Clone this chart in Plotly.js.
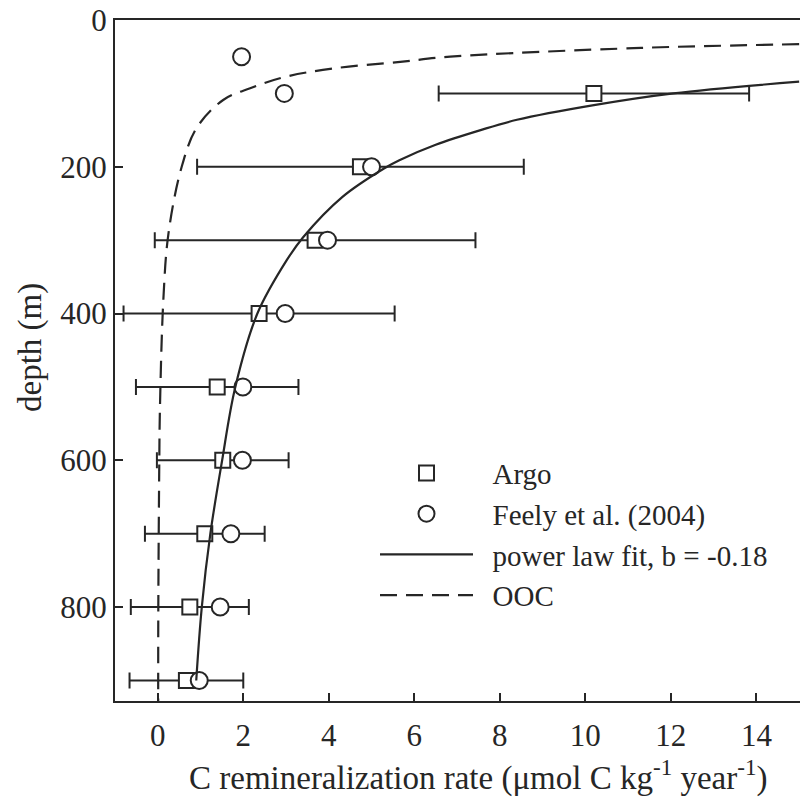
<!DOCTYPE html>
<html>
<head>
<meta charset="utf-8">
<script src="https://cdn.plot.ly/plotly-3.0.1.min.js"></script>
<style>html,body{margin:0;padding:0;background:#fff;}#chart{width:800px;height:798px;}</style>
</head>
<body>
<div id="chart"></div>
<script>
// Argo estimates (squares) with symmetric horizontal error bars
const argoDepth = [100, 200, 300, 400, 500, 600, 700, 800, 900];
const argoRate  = [10.2, 4.74, 3.68, 2.37, 1.39, 1.52, 1.10, 0.75, 0.67];
const argoErr   = [3.63, 3.82, 3.75, 3.17, 1.90, 1.54, 1.40, 1.38, 1.33];

// Feely et al. (2004) (circles)
const feelyDepth = [50, 100, 200, 300, 400, 500, 600, 700, 800, 900];
const feelyRate  = [1.96, 2.96, 5.00, 3.97, 2.98, 1.99, 1.98, 1.71, 1.46, 0.97];

// power law fit curve
const fitDepth = [84, 100, 116, 136, 150, 170, 191, 202, 241, 296, 327, 400, 501, 602, 700, 800, 900];
const fitRate  = [15.0, 12.06, 10.2, 8.40, 7.55, 6.50, 5.65, 5.30, 4.32, 3.40, 3.02, 2.33, 1.81, 1.50, 1.23, 1.03, 0.90];

// OOC curve
const oocDepth = [33, 38, 50, 57, 66, 78, 93, 109, 147, 200, 291, 382, 532, 600, 800, 928];
const oocRate  = [15.0, 11.3, 6.84, 5.67, 4.11, 2.94, 2.16, 1.53, 0.91, 0.56, 0.25, 0.13, 0.05, 0.036, 0.013, 0.01];

// texts
const xTitle = 'C remineralization rate (\u03bcmol C kg<sup>-1</sup> year<sup>-1</sup>)';
const yTitle = 'depth (m)';
const xTicks = [0, 2, 4, 6, 8, 10, 12, 14];
const yTicks = [0, 200, 400, 600, 800];

const ink = '#262626';
const fontFam = 'Liberation Serif, Times New Roman, serif';
const pad = '\u00a0\u00a0';

const traces = [
  {
    x: argoRate, y: argoDepth, type: 'scatter', mode: 'markers', name: pad + 'Argo',
    marker: {symbol: 'square', size: 15, color: '#fff', line: {color: ink, width: 2}},
    error_x: {type: 'data', array: argoErr, visible: true, color: ink, thickness: 2, width: 8}
  },
  {
    x: feelyRate, y: feelyDepth, type: 'scatter', mode: 'markers', name: pad + 'Feely et al. (2004)',
    marker: {symbol: 'circle', size: 17, color: '#fff', line: {color: ink, width: 2}}
  },
  {
    x: fitRate, y: fitDepth, type: 'scatter', mode: 'lines', name: pad + 'power law fit, b = -0.18',
    line: {color: ink, width: 2.2, shape: 'spline', smoothing: 1}
  },
  {
    x: oocRate, y: oocDepth, type: 'scatter', mode: 'lines', name: pad + 'OOC',
    line: {color: ink, width: 2.2, dash: '17px,9px', shape: 'spline', smoothing: 1}
  }
];

const layout = {
  width: 800, height: 798,
  margin: {l: 115, r: 0, t: 20, b: 97},
  paper_bgcolor: '#fff', plot_bgcolor: '#fff',
  font: {family: fontFam, size: 31, color: ink},
  showlegend: true,
  legend: {
    x: (375 - 115) / 685, y: 0.372, xanchor: 'left', yanchor: 'top',
    bgcolor: 'rgba(0,0,0,0)', borderwidth: 0,
    itemwidth: 93, tracegroupgap: 0,
    font: {family: fontFam, size: 29, color: ink}
  },
  xaxis: {
    range: [-1, 15.02], tickvals: xTicks,
    ticks: 'inside', ticklen: 8, tickwidth: 2, tickcolor: ink,
    showline: true, linecolor: ink, linewidth: 2, mirror: true,
    showgrid: false, zeroline: false,
    tickfont: {size: 31}, ticklabelstandoff: 6
  },
  yaxis: {
    range: [928, 0], tickvals: yTicks,
    ticks: 'inside', ticklen: 8, tickwidth: 2, tickcolor: ink,
    showline: true, linecolor: ink, linewidth: 2, mirror: true,
    showgrid: false, zeroline: false,
    tickfont: {size: 31}
  },
  annotations: [
    {
      text: xTitle, xref: 'paper', yref: 'paper',
      x: (478 - 115) / 685, y: (701 - 775) / 681, xanchor: 'center', yanchor: 'middle',
      showarrow: false, font: {family: fontFam, size: 33, color: ink}
    },
    {
      text: yTitle, xref: 'paper', yref: 'paper', textangle: -90,
      x: (30 - 115) / 685, y: 1 - (348 - 20) / 681, xanchor: 'center', yanchor: 'middle',
      showarrow: false, font: {family: fontFam, size: 33, color: ink}
    }
  ]
};

Plotly.newPlot('chart', traces, layout, {displayModeBar: false, staticPlot: true});
</script>
</body>
</html>
